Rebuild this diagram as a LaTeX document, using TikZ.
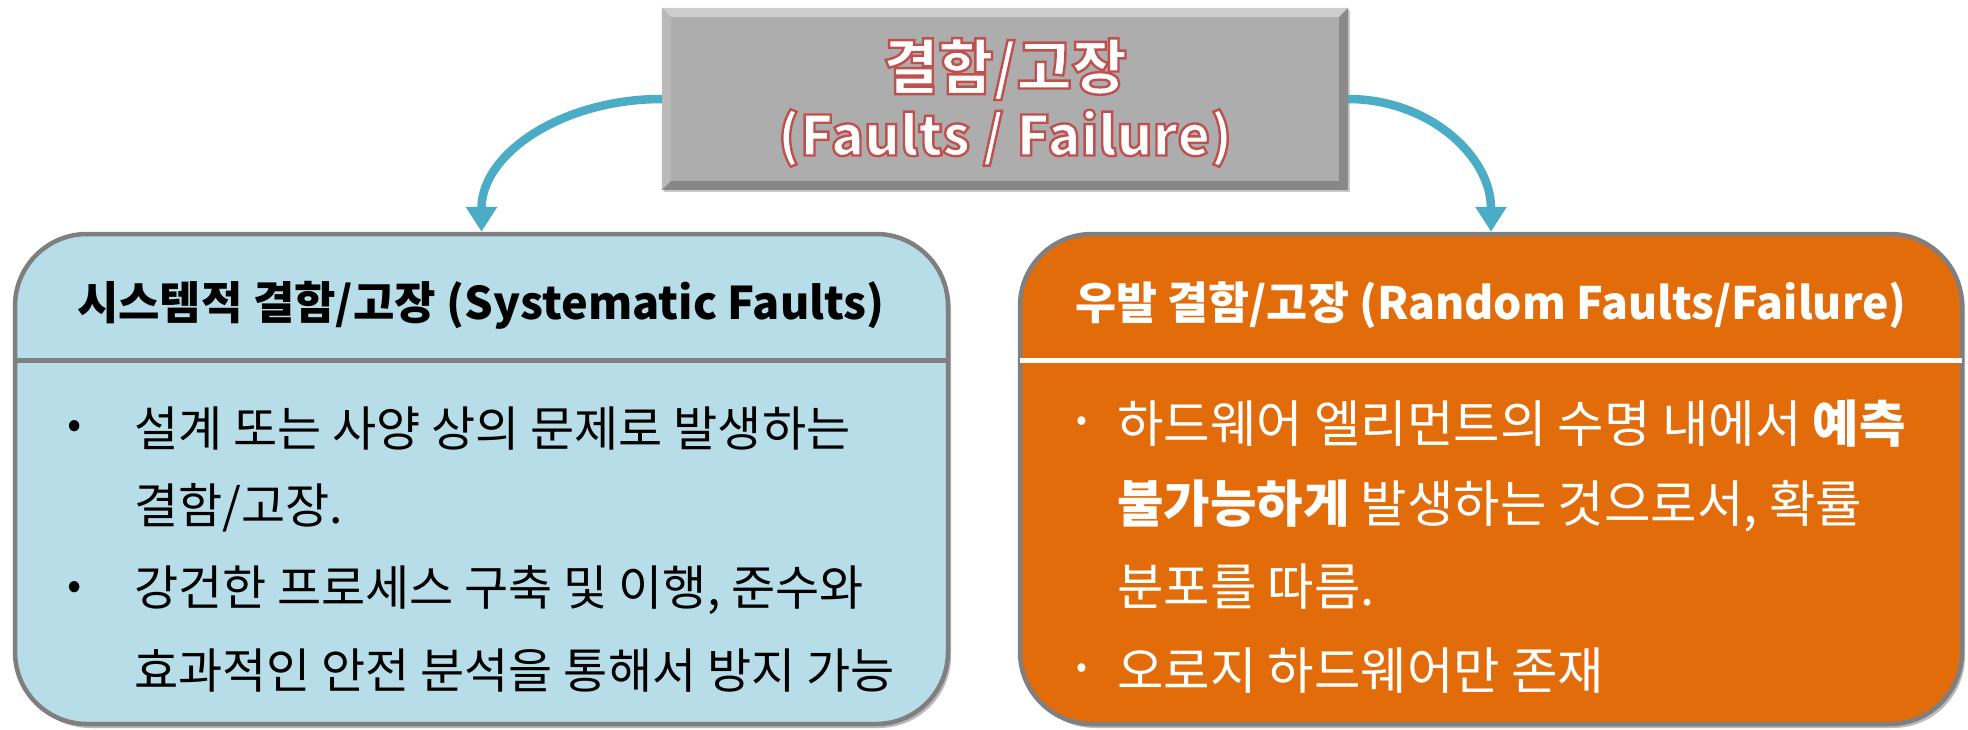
\documentclass[tikz,border=0pt]{standalone}
\usepackage{fontspec}
\setmainfont{Noto Sans CJK KR}
\usetikzlibrary{arrows.meta,shadows}
\definecolor{topgray}{HTML}{ADADAD}
\definecolor{lightblue}{HTML}{B7DDE8}
\definecolor{orangefill}{HTML}{E36C0A}
\definecolor{bordergray}{HTML}{7F7F7F}
\definecolor{arrowblue}{HTML}{4BACC6}
\newcommand\redoutline[1]{\color{white}\special{pdf:code q 0.753 0.314 0.302 RG 2.4 w 2 Tr}#1\special{pdf:code Q}}
\begin{document}
\begin{tikzpicture}[x=1pt,y=-1pt,
  bigbox/.style={draw=bordergray, line width=4.5pt, rounded corners=72pt, inner sep=0pt,
    drop shadow={shadow xshift=3pt, shadow yshift=-4pt, fill=black!45, opacity=0.6}},
  flowarrow/.style={draw=arrowblue, line width=8.5pt, -{Triangle[width=30pt,length=25pt]}},
  headL/.style={inner sep=0pt, font=\fontsize{45}{50}\selectfont\bfseries},
  headR/.style={inner sep=0pt, font=\fontsize{44.6}{50}\selectfont\bfseries, text=white},
  bodyL/.style={anchor=west, inner sep=0pt, font=\fontsize{48}{54}\selectfont},
  bodyR/.style={anchor=west, inner sep=0pt, font=\fontsize{50.5}{56}\selectfont, text=white},
  bulL/.style={inner sep=0pt, font=\fontsize{42}{48}\selectfont},
  bulR/.style={inner sep=0pt, font=\fontsize{32}{36}\selectfont, text=white},
  topA/.style={inner sep=0pt, font=\fontsize{60}{66}\selectfont\bfseries},
  topB/.style={inner sep=0pt, font=\fontsize{55}{62}\selectfont\bfseries}
]
\useasboundingbox (0,0) rectangle (1968,729);

% top box with bevel
\node[fill=topgray, minimum width=686pt, minimum height=182pt, inner sep=0pt,
  drop shadow={shadow xshift=2pt, shadow yshift=-2pt, fill=black!40, opacity=0.5}] (top) at (1005,99) {};
\fill[topgray!60!white] (top.north west) -- (top.north east) -- ([xshift=-9pt,yshift=-9pt]top.north east) -- ([xshift=9pt,yshift=-9pt]top.north west) -- cycle;
\fill[topgray!85!white] (top.north west) -- ([xshift=9pt,yshift=-9pt]top.north west) -- ([xshift=9pt,yshift=9pt]top.south west) -- (top.south west) -- cycle;
\fill[topgray!80!black] (top.north east) -- (top.south east) -- ([xshift=-9pt,yshift=9pt]top.south east) -- ([xshift=-9pt,yshift=-9pt]top.north east) -- cycle;
\fill[topgray!78!black] (top.south west) -- (top.south east) -- ([xshift=-9pt,yshift=9pt]top.south east) -- ([xshift=9pt,yshift=9pt]top.south west) -- cycle;

\node[topA] (t1) at (1005,69) {\redoutline{결함/고장}};
\node[topB] (t2) at (1005,138) {\redoutline{(Faults / Failure)}};

% lower boxes
\node[bigbox, fill=lightblue, minimum width=933pt, minimum height=490pt] (left) at (481.5,479) {};
\node[bigbox, fill=orangefill, minimum width=942pt, minimum height=490pt] (right) at (1491,479) {};

\draw[bordergray, line width=5pt] (left.west |- 0,360) -- (left.east |- 0,360);
\draw[white, line width=5pt] ([xshift=2.5pt]right.west |- 0,360) -- ([xshift=-2.5pt]right.east |- 0,360);

% arrows
\draw[flowarrow] (top.west) .. controls +(-100,0) and +(0,-78) .. (left.north);
\draw[flowarrow] (top.east) .. controls +(80,0) and +(0,-76) .. (right.north);

% headers
\node[headL] (lh) at (481,305) {시스템적 결함/고장 (Systematic Faults)};
\node[headR] (rh) at (1491,305) {우발 결함/고장 (Random Faults/Failure)};

% left body
\node[bulL] (lb1) at (75,429) {•};
\node[bodyL] (l1) at (134,429) {설계 또는 사양 상의 문제로 발생하는};
\node[bodyL] (l2) at (134,508) {결함/고장.};
\node[bulL] (lb2) at (75,590) {•};
\node[bodyL] (l3) at (134,590) {강건한 프로세스 구축 및 이행, 준수와};
\node[bodyL] (l4) at (134,671) {효과적인 안전 분석을 통해서 방지 가능};

% right body
\node[bulR] (rb1) at (1082,424) {•};
\node[bodyR] (r1) at (1117,424) {하드웨어 엘리먼트의 수명 내에서 \textbf{예측}};
\node[bodyR] (r2) at (1117,506) {\textbf{불가능하게} 발생하는 것으로서, 확률};
\node[bodyR] (r3) at (1117,587) {분포를 따름.};
\node[bulR] (rb2) at (1082,671) {•};
\node[bodyR] (r4) at (1117,671) {오로지 하드웨어만 존재};
\end{tikzpicture}
\end{document}
